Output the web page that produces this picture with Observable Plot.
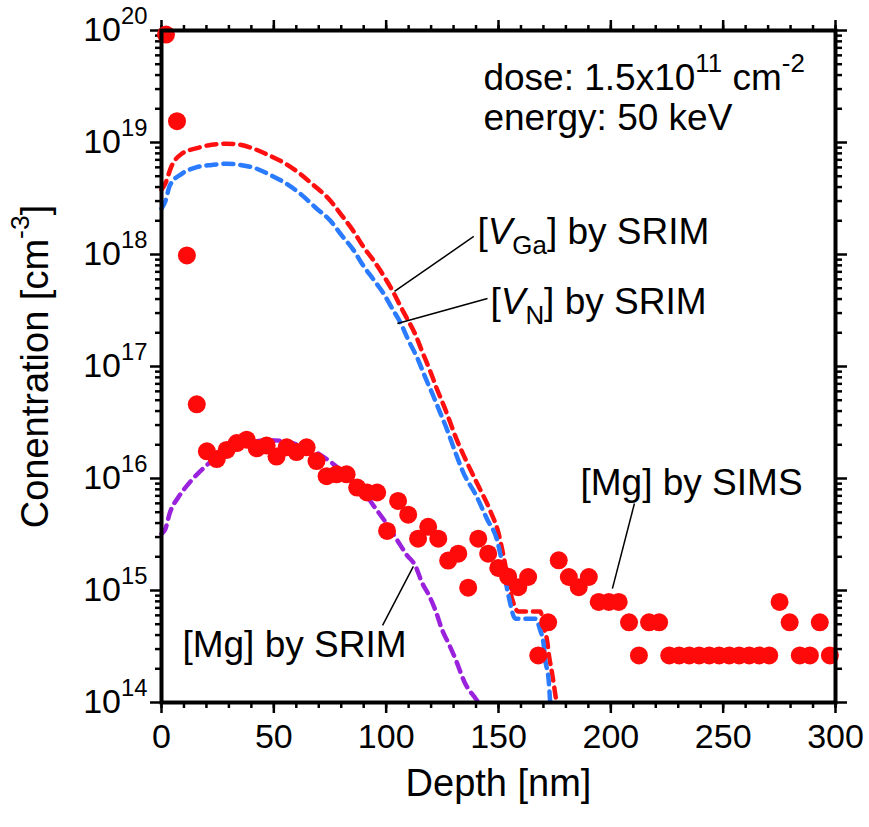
<!DOCTYPE html>
<html><head><meta charset="utf-8">
<script src="https://cdn.jsdelivr.net/npm/d3@7"></script>
<script src="https://cdn.jsdelivr.net/npm/@observablehq/plot@0.6"></script>
<style>body{margin:0;background:#fff}</style>
</head><body><div id="chart"></div>
<script>
// ---- data ----
const simsDepth = [2.0,6.9,11.3,15.7,20.2,24.6,29.0,33.5,37.9,42.4,46.8,51.2,55.7,60.1,64.6,69.0,73.5,77.9,82.4,87.1,91.5,96.0,100.4,105.3,109.8,114.2,118.7,123.2,127.6,132.1,136.5,141.0,145.4,149.9,154.3,158.8,163.2,167.7,172.1,176.8,181.3,185.7,190.2,194.6,199.1,203.5,208.1,212.5,217.0,221.5,226.0,230.4,234.9,239.3,243.8,248.2,252.7,257.1,261.6,266.0,270.5,275.1,279.6,284.1,288.6,293.0,297.5];
const simsConc = [9.2e19,1.55e19,9.8e17,4.6e16,1.75e16,1.49e16,1.8e16,2.07e16,2.22e16,1.86e16,1.97e16,1.57e16,1.9e16,1.72e16,1.9e16,1.43e16,1.05e16,1.09e16,1.09e16,8.3e15,7.5e15,7.5e15,3.4e15,6.3e15,4.75e15,2.9e15,3.7e15,2.9e15,1.85e15,2.13e15,1.06e15,2.9e15,2.13e15,1.59e15,1.33e15,1.07e15,1.32e15,2.63e14,5.2e14,1.86e15,1.32e15,1.07e15,1.32e15,7.9e14,7.9e14,7.9e14,5.2e14,2.63e14,5.2e14,5.2e14,2.63e14,2.63e14,2.63e14,2.63e14,2.63e14,2.63e14,2.63e14,2.63e14,2.63e14,2.63e14,2.63e14,7.9e14,5.2e14,2.63e14,2.63e14,5.2e14,2.63e14];

const vgaDepth = [0,1.6,4.5,9,15.7,22.3,29,35,41.7,48.4,55,61.7,67.6,74.3,80.2,85.4,89.9,94.3,98.8,103.2,106.2,109.2,112.9,115.9,119.6,122.6,126.2,131.5,135.2,140.4,146.4,150.1,152.3,156,158.8,168.6,170.2,171.7,172.4,173.9,175.8];
const vgaConc = [3.8e18,4.27e18,6.17e18,7.94e18,8.9e18,9.55e18,9.77e18,9.55e18,8.7e18,7.6e18,6.5e18,5.25e18,4.17e18,3.16e18,2.24e18,1.62e18,1.17e18,8.9e17,6.5e17,4.6e17,3.5e17,2.7e17,1.95e17,1.38e17,9.1e16,6.3e16,4.2e16,2.2e16,1.5e16,9.1e15,5.1e15,3.2e15,2.0e15,8.5e14,6.5e14,6.5e14,4.7e14,3.5e14,2.7e14,1.8e14,1.0e14];

const vnDepth = [0,1.6,3.8,9,15.7,22.3,29,35,41.7,48.4,55.7,62.5,68.5,75.2,80.2,85.4,89.9,94.3,98.8,103.2,106.2,110,113.8,117.5,120.5,124.2,127.2,129.4,134.6,139.8,145,149.4,152.3,154.6,157.5,166.4,168.6,170.1,170.8,172.3,173.0];
const vnConc = [2.57e18,2.95e18,4.17e18,5.25e18,6.03e18,6.3e18,6.46e18,6.3e18,5.9e18,5.13e18,4.27e18,3.39e18,2.63e18,2.0e18,1.48e18,1.1e18,7.9e17,6.0e17,4.5e17,3.16e17,2.5e17,1.7e17,1.2e17,7.9e16,5.75e16,3.8e16,2.7e16,2.04e16,1.1e16,7.2e15,4.3e15,2.8e15,1.5e15,8.7e14,5.6e14,5.6e14,4.4e14,3.3e14,2.4e14,1.6e14,1.0e14];

const mgDepth = [0,1.6,3.8,7.5,12.7,18.6,25,32,40,48,55,62,70,77,85,90,95,100,105,109,113,116,119,122,125,128,131,135,140,141];
const mgConc = [3.2e15,3.5e15,5.0e15,6.8e15,9.3e15,1.23e16,1.58e16,1.86e16,2.1e16,2.2e16,2.15e16,1.95e16,1.66e16,1.32e16,9.5e15,7.6e15,5.5e15,4.0e15,2.8e15,2.1e15,1.66e15,1.17e15,9.1e14,6.6e14,4.4e14,3.3e14,2.4e14,1.5e14,1.07e14,1.0e14];

const xMajor = [0,50,100,150,200,250,300];
const xMinor = d3.range(0, 301, 10);
const yMajor = [1e14,1e15,1e16,1e17,1e18,1e19,1e20];
const yMinor = [];
for (let e = 14; e < 20; e++) for (let k = 2; k <= 9; k++) yMinor.push(k * 10 ** e);

const labels = ["dose: 1.5x10^{11} cm^{-2}", "energy: 50 keV", "[*V*_{Ga}] by SRIM", "[*V*_{N}] by SRIM", "[Mg] by SIMS", "[Mg] by SRIM"];

// ---- tables ----
const zip = (xs, ys) => xs.map((d, i) => ({d, c: ys[i]}));
const sims = zip(simsDepth, simsConc);
const vga = zip(vgaDepth, vgaConc);
const vn = zip(vnDepth, vnConc);
const mg = zip(mgDepth, mgConc);

const notes = [
  {x: 143.3, y: 3.73e19, t: labels[0]},
  {x: 143.3, y: 1.64e19, t: labels[1]},
  {x: 140.6, y: 1.57e18, t: labels[2]},
  {x: 146.4, y: 3.72e17, t: labels[3]},
  {x: 186.5, y: 9.0e15, t: labels[4]},
  {x: 9.3, y: 3.23e14, t: labels[5]}
];
const leaders = [
  {x1: 103.7, y1: 4.68e17, x2: 139.0, y2: 1.45e18},
  {x1: 105.0, y1: 2.42e17, x2: 145.1, y2: 4.05e17},
  {x1: 200.7, y1: 1.04e15, x2: 210.5, y2: 5.98e15},
  {x1: 112.1, y1: 1.64e15, x2: 98.4, y2: 4.88e14}
];

const FONT = "Arial, 'Liberation Sans', sans-serif";
const dash = "10,7";

const chart = Plot.plot({
  width: 869, height: 827,
  marginLeft: 161, marginRight: 34, marginTop: 30, marginBottom: 125,
  x: {domain: [0, 300], label: null},
  y: {type: "log", domain: [1e14, 1e20], label: null},
  style: {fontFamily: FONT, background: "white", color: "black"},
  marks: [
    Plot.axisX({ticks: xMinor, tickSize: 6, tickFormat: () => "", strokeWidth: 2.5, label: null}),
    Plot.axisX({ticks: xMajor, tickSize: 11, tickPadding: 10, fontSize: 34, strokeWidth: 2.5, label: null}),
    Plot.axisX({anchor: "top", ticks: xMinor, tickSize: 6, tickFormat: () => "", strokeWidth: 2.5, label: null}),
    Plot.axisX({anchor: "top", ticks: xMajor, tickSize: 11, tickFormat: () => "", strokeWidth: 2.5, label: null}),
    Plot.axisY({ticks: yMinor, tickSize: 6, tickFormat: () => "", strokeWidth: 2.5, label: null}),
    Plot.axisY({ticks: yMajor, tickSize: 11, tickPadding: 3, fontSize: 34, strokeWidth: 2.5, label: null,
      tickFormat: v => `10^{${Math.round(Math.log10(v))}}`}),
    Plot.axisY({anchor: "right", ticks: yMinor, tickSize: 6, tickFormat: () => "", strokeWidth: 2.5, label: null}),
    Plot.axisY({anchor: "right", ticks: yMajor, tickSize: 11, tickFormat: () => "", strokeWidth: 2.5, label: null}),
    Plot.line(mg, {x: "d", y: "c", stroke: "#9a22dd", strokeWidth: 4.5, strokeDasharray: dash, curve: "monotone-x"}),
    Plot.line(vga, {x: "d", y: "c", stroke: "#ff1010", strokeWidth: 4.5, strokeDasharray: dash, curve: "monotone-x"}),
    Plot.line(vn, {x: "d", y: "c", stroke: "#2a7bff", strokeWidth: 4.5, strokeDasharray: dash, curve: "monotone-x"}),
    Plot.dot(sims, {x: "d", y: "c", r: 9, fill: "#ff0a0a"}),
    Plot.link(leaders, {x1: "x1", y1: "y1", x2: "x2", y2: "y2", stroke: "black", strokeWidth: 1.5}),
    Plot.text(notes, {x: "x", y: "y", text: "t", textAnchor: "start", fontSize: 37, fill: "black"}),
    Plot.frame({stroke: "black", strokeWidth: 4}),
    Plot.text(["Depth [nm]"], {frameAnchor: "bottom", dy: 93, fontSize: 38, fill: "black"}),
    Plot.text(["Conentration [cm^{-3}]"], {frameAnchor: "left", textAnchor: "middle", dx: -126, rotate: -90, fontSize: 38, fill: "black"})
  ]
});
document.getElementById("chart").appendChild(chart);

// rich text: ^{sup}, _{sub}, *italic*
function rich(root) {
  root.querySelectorAll("text").forEach(el => {
    const s = el.textContent;
    if (!/[\^_*]/.test(s)) return;
    const F = parseFloat(getComputedStyle(el).fontSize);
    const segs = [];
    let i = 0, buf = "", italic = false;
    while (i < s.length) {
      const c = s[i];
      if ((c === "^" || c === "_") && s[i + 1] === "{") {
        if (buf) segs.push({t: buf, m: "n", it: italic});
        buf = "";
        const j = s.indexOf("}", i);
        segs.push({t: s.slice(i + 2, j), m: c === "^" ? "sup" : "sub", it: false});
        i = j + 1; continue;
      }
      if (c === "*") { if (buf) segs.push({t: buf, m: "n", it: italic}); buf = ""; italic = !italic; i++; continue; }
      buf += c; i++;
    }
    if (buf) segs.push({t: buf, m: "n", it: italic});
    el.textContent = "";
    let cur = 0;
    for (const g of segs) {
      const target = g.m === "sup" ? -0.5 * F : g.m === "sub" ? 0.25 * F : 0;
      const ts = document.createElementNS("http://www.w3.org/2000/svg", "tspan");
      if (target !== cur) ts.setAttribute("dy", target - cur);
      cur = target;
      if (g.m !== "n") ts.setAttribute("font-size", 0.7 * F);
      if (g.it) ts.setAttribute("font-style", "italic");
      ts.textContent = g.t;
      el.appendChild(ts);
    }
  });
}
rich(chart);
</script>
</body></html>
